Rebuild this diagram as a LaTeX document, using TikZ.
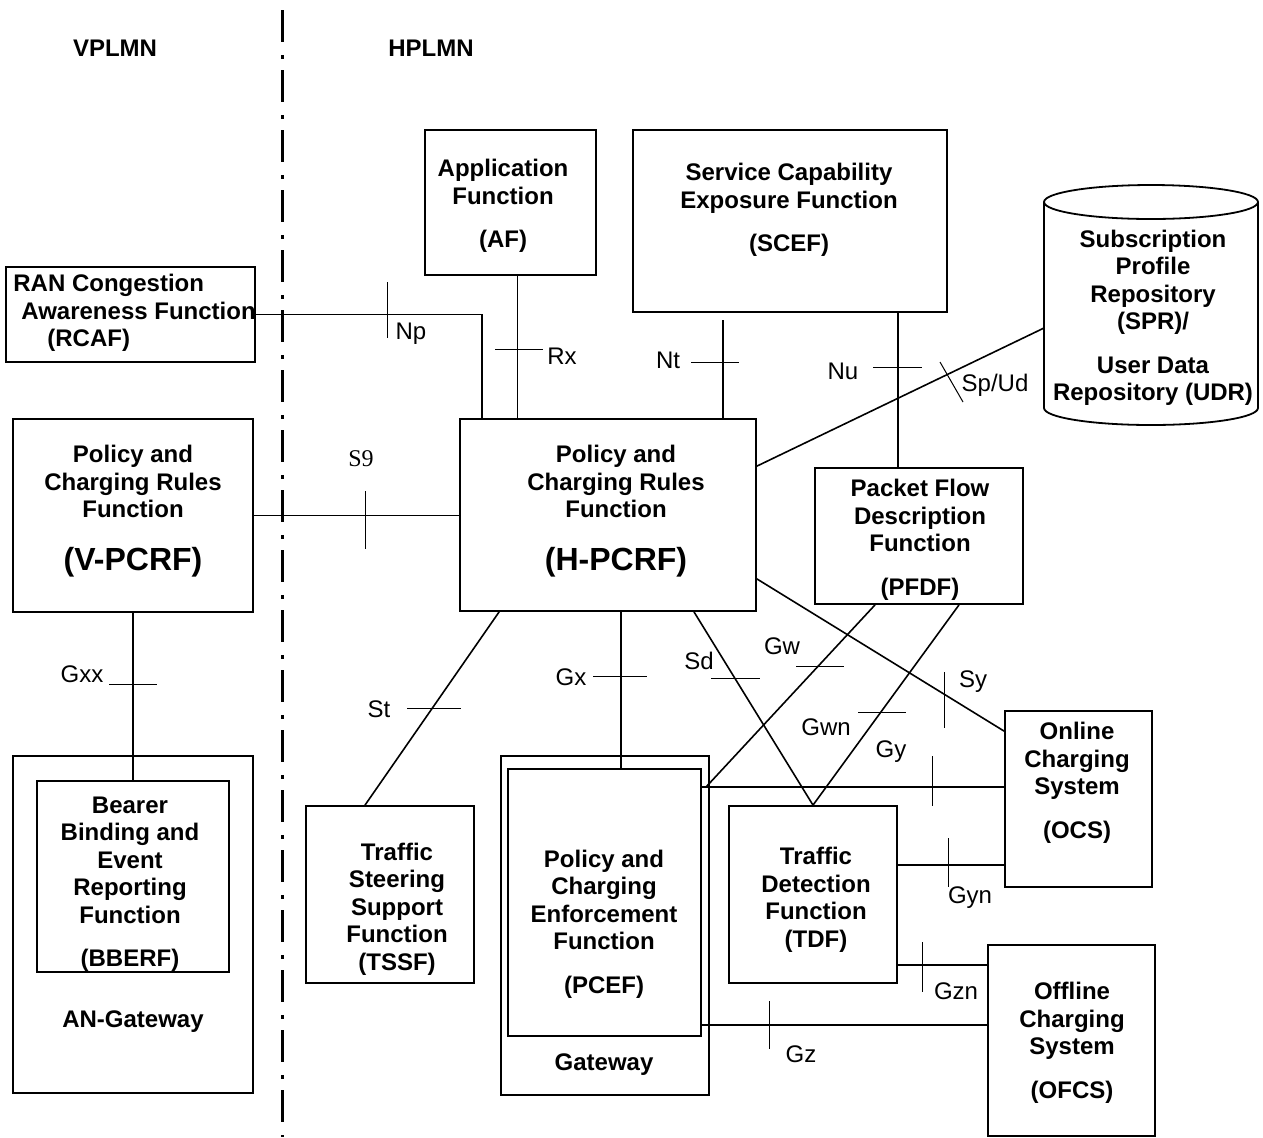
\documentclass[tikz,border=0pt]{standalone}
\usepackage{fontspec}
\setmainfont{Liberation Sans}
\newfontfamily\serifa{Liberation Serif}
\usetikzlibrary{fit}

\begin{document}
\begin{tikzpicture}[x=0.5pt, y=-0.5pt,
    caja/.style={draw, line width=0.9pt, inner sep=0pt},
    txt/.style={font=\bfseries\fontsize{12}{13.75}\selectfont, align=center, inner sep=0pt},
    etiq/.style={font=\fontsize{12}{14}\selectfont, inner sep=0pt},
    enlace/.style={line width=0.8pt},
    marca/.style={line width=0.5pt}]

        \useasboundingbox (0,0) rectangle (1263,1137);

        % ~~~~ Frontera VPLMN / HPLMN ~~~~%
        \draw[line width=1.5pt, dash pattern=on 16pt off 6.5pt on 2pt off 5.5pt] (282,10) -- (282,1137);
        \node[txt] (vplmn) at (115,48) {VPLMN};
        \node[txt] (hplmn) at (431,48) {HPLMN};

        % ~~~~ Cajas ~~~~%
        \node[caja, fit={(6,267) (255,362)}] (rcaf) {};
        \node[caja, fit={(425,130) (596,275)}] (af) {};
        \node[caja, fit={(633,130) (947,312)}] (scef) {};
        \node[caja, fit={(13,419) (253,612)}] (vpcrf) {};
        \node[caja, fit={(460,419) (756,611)}] (hpcrf) {};
        \node[caja, fit={(815,468) (1023,604)}] (pfdf) {};
        \node[caja, fit={(13,756) (253,1093)}] (angw) {};
        \node[caja, fit={(37,781) (229,972)}] (bberf) {};
        \node[caja, fit={(306,806) (474,983)}] (tssf) {};
        \node[caja, fit={(501,756) (709,1095)}] (gw) {};
        \node[caja, fit={(508,769) (701,1036)}] (pcef) {};
        \node[caja, fit={(729,806) (897,983)}] (tdf) {};
        \node[caja, fit={(1005,711) (1152,887)}] (ocs) {};
        \node[caja, fit={(988,945) (1155,1136)}] (ofcs) {};

        % ~~~~ Repositorio (cilindro) ~~~~%
        \draw[line width=0.9pt] (1044,202) -- (1044,408)
            arc[start angle=180, end angle=360, x radius=53.5pt, y radius=8.5pt] -- (1258,202);
        \draw[line width=0.9pt] (1151,202) ellipse [x radius=53.5pt, y radius=8.5pt];
        \coordinate (spr) at (1044,328);

        % ~~~~ Textos de las cajas ~~~~%
        \node[txt, anchor=west, align=left] (rcaf-t) at (13,313)
            {RAN Congestion\\\hspace*{4pt}Awareness Function\\\hspace*{17pt}(RCAF)};
        \node[txt] (af-t) at (503,206) {Application\\Function\\[8pt](AF)};
        \node[txt] (scef-t) at (789,210) {Service Capability\\Exposure Function\\[8pt](SCEF)};
        \node[txt] (spr-t) at (1153,318)
            {Subscription\\Profile\\Repository\\(SPR)/\\[8pt]User Data\\Repository (UDR)};
        \node[txt] (vpcrf-t) at (133,511)
            {Policy and\\Charging Rules\\Function\\[12.5pt]{\fontsize{16}{19}\selectfont(V-PCRF)}};
        \node[txt] (hpcrf-t) at (616,511)
            {Policy and\\Charging Rules\\Function\\[12.5pt]{\fontsize{16}{19}\selectfont(H-PCRF)}};
        \node[txt] (pfdf-t) at (920,540) {Packet Flow\\Description\\Function\\[8pt](PFDF)};
        \node[txt] (bberf-t) at (130,884)
            {Bearer\\Binding and\\Event\\Reporting\\Function\\[8pt](BBERF)};
        \node[txt] (angw-t) at (133,1022) {AN-Gateway};
        \node[txt] (tssf-t) at (397,909) {Traffic\\Steering\\Support\\Function\\(TSSF)};
        \node[txt] (pcef-t) at (604,924)
            {Policy and\\Charging\\Enforcement\\Function\\[8pt](PCEF)};
        \node[txt] (gw-t) at (604,1065) {Gateway};
        \node[txt] (tdf-t) at (816,900) {Traffic\\Detection\\Function\\(TDF)};
        \node[txt] (ocs-t) at (1077,783) {Online\\Charging\\System\\[8pt](OCS)};
        \node[txt] (ofcs-t) at (1072,1043) {Offline\\Charging\\System\\[8pt](OFCS)};

        % ~~~~ Interfaces ~~~~%
        \draw[enlace] (rcaf.east) -| ([xshift=11.5pt]hpcrf.north west);
        \draw[enlace] ([xshift=3.5pt]af.south) -- ([xshift=3.5pt]af.south |- hpcrf.north);
        \coordinate (nt) at (723,320);
        \draw[enlace] (nt) -- (nt |- hpcrf.north);
        \draw[enlace] ([xshift=54pt]scef.south) -- ([xshift=54pt]scef.south |- pfdf.north);
        \draw[enlace] ([yshift=-24pt]hpcrf.north east) -- (spr);
        \draw[enlace] (vpcrf.east) -- (vpcrf.east -| hpcrf.west);
        \draw[enlace] (vpcrf.south) -- (bberf.north);
        \draw[enlace] ([xshift=20pt]hpcrf.south west) -- ([xshift=-12.5pt]tssf.north);
        \draw[enlace] ([xshift=6.5pt]hpcrf.south) -- ([xshift=6.5pt]hpcrf.south |- pcef.north);
        \draw[enlace] ([xshift=43pt]hpcrf.south) -- (tdf.north);
        \draw[enlace] ([yshift=16.5pt]hpcrf.south east) -- ([yshift=-10.5pt]ocs.north west);
        \coordinate (gy) at ([yshift=-9.5pt]pcef.north east);
        \draw[enlace] ([xshift=-22pt]pfdf.south) -- ([xshift=2pt]gy);
        \draw[enlace] ([xshift=20pt]pfdf.south) -- (tdf.north);
        \draw[enlace] (gy) -- (gy -| ocs.west);
        \draw[enlace] ([yshift=-30pt]tdf.north east) -- ([yshift=-30pt]tdf.north east -| ocs.west);
        \draw[enlace] ([yshift=9.5pt]tdf.south east) -- ([yshift=9.5pt]tdf.south east -| ofcs.west);
        \draw[enlace] ([yshift=6pt]pcef.south east) -- ([yshift=6pt]pcef.south east -| ofcs.west);

        % ~~~~ Marcas de los puntos de referencia ~~~~%
        \draw[marca] (387,282) -- (387,338);
        \draw[marca] (495,349) -- (543,349);
        \draw[marca] (691,362) -- (739,362);
        \draw[marca] (873,367) -- (922,367);
        \draw[marca] (940,362) -- (963,402);
        \draw[marca] (365,491) -- (365,549);
        \draw[marca] (109,684) -- (157,684);
        \draw[marca] (407,708) -- (461,708);
        \draw[marca] (593,676) -- (647,676);
        \draw[marca] (711,678) -- (760,678);
        \draw[marca] (796,666) -- (844,666);
        \draw[marca] (858,712) -- (906,712);
        \draw[marca] (944,672) -- (944,728);
        \draw[marca] (932,756) -- (932,806);
        \draw[marca] (948,838) -- (948,887);
        \draw[marca] (922,942) -- (922,992);
        \draw[marca] (769,1001) -- (769,1049);

        % ~~~~ Nombres de los puntos de referencia ~~~~%
        \node[etiq] (np) at (411,334) {Np};
        \node[etiq] (rx) at (562,356) {Rx};
        \node[etiq] (nt-l) at (668,360) {Nt};
        \node[etiq] (nu) at (843,371) {Nu};
        \node[etiq] (spud) at (995,385) {Sp/Ud};
        \node[etiq, font=\serifa\fontsize{12}{14}\selectfont] (s9) at (361,459) {S9};
        \node[etiq] (gxx) at (82,674) {Gxx};
        \node[etiq] (st) at (379,709) {St};
        \node[etiq] (gx) at (571,677) {Gx};
        \node[etiq] (sd) at (699,661) {Sd};
        \node[etiq] (gw-l) at (782,646) {Gw};
        \node[etiq] (gwn) at (826,727) {Gwn};
        \node[etiq] (sy) at (973,682) {Sy};
        \node[etiq] (gy-l) at (891,752) {Gy};
        \node[etiq] (gyn) at (970,898) {Gyn};
        \node[etiq] (gzn) at (956,991) {Gzn};
        \node[etiq] (gz) at (801,1054) {Gz};
    \end{tikzpicture}
\end{document}
